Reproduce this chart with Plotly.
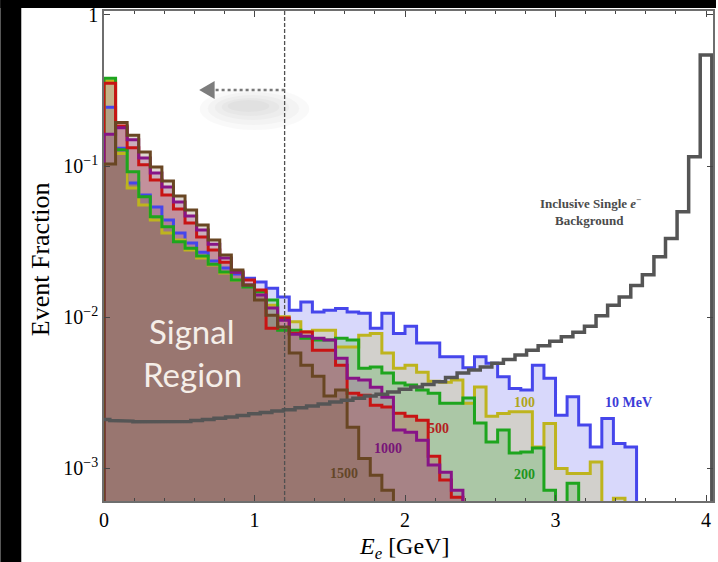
import numpy as np
import plotly.graph_objects as go

# ---------------- data (event fraction per bin, bins of 1/13 GeV starting at 0) ----------------
BINS_PER_GEV = 13

ee_10mev = [0.245, 0.131, 0.0771, 0.0643, 0.0535, 0.0439, 0.0360, 0.0309, 0.0269, 0.0235,
            0.0211, 0.0193, 0.0181, 0.0171, 0.0155, 0.0136, 0.0111, 0.0126, 0.0108, 0.0111,
            0.0114, 0.0108, 0.0106, 0.00845, 0.0106, 0.00780, 0.00871, 0.00673, 0.00673, 0.00546,
            0.00546, 0.00463, 0.00546, 0.00496, 0.00403, 0.00337, 0.00329, 0.00481, 0.00394, 0.00224,
            0.00297, 0.00193, 0.00138, 0.00213, 0.00146, 0.00138]
ee_100 = [0.366, 0.121, 0.0715, 0.0552, 0.0439, 0.0360, 0.0324, 0.0278, 0.0246, 0.0221,
          0.0196, 0.0176, 0.0160, 0.0147, 0.0120, 0.01005, 0.00931, 0.00800, 0.00820, 0.00820,
          0.00635, 0.00635, 0.00760, 0.00780, 0.00578, 0.00459, 0.00481, 0.00432, 0.00377, 0.00371,
          0.00383, 0.00269, 0.00345, 0.00221, 0.00230, 0.00236, 0.00236, 0.00138, 0.00198, 0.000995,
          0.000923, 0.000923, 0.00110, 0.0, 0.000633]
ee_200 = [0.381, 0.128, 0.0917, 0.0627, 0.0461, 0.0396, 0.0315, 0.0286, 0.0254, 0.0224,
          0.0199, 0.0176, 0.0158, 0.0147, 0.0130, 0.00820, 0.00820, 0.00726, 0.00705, 0.00705,
          0.00726, 0.00705, 0.00459, 0.00467, 0.00426, 0.00366, 0.00355, 0.00329, 0.00314, 0.00269,
          0.00269, 0.00291, 0.00199, 0.00149, 0.00179, 0.00126, 0.00128, 0.00136, 0.000714, 0.0,
          0.000796]
ee_500 = [0.353, 0.184, 0.132, 0.102, 0.0808, 0.0643, 0.0519, 0.0420, 0.0339, 0.0278,
          0.0231, 0.0199, 0.0176, 0.0151, 0.00845, 0.00985, 0.00783, 0.00796, 0.00604, 0.00604,
          0.00481, 0.00314, 0.00304, 0.00261, 0.00254, 0.00231, 0.00221, 0.00208, 0.00120, 0.000834,
          0.000643]
ee_1000 = [0.162, 0.179, 0.149, 0.113, 0.0899, 0.0726, 0.0578, 0.0467, 0.0377, 0.0304,
           0.0246, 0.0199, 0.0163, 0.0140, 0.0115, 0.00955, 0.00771, 0.00748, 0.00726, 0.00705,
           0.00535, 0.00394, 0.00383, 0.00344, 0.00295, 0.00179, 0.00173, 0.00153, 0.00105, 0.000942,
           0.000714]
ee_1500 = [0.103, 0.194, 0.160, 0.124, 0.0984, 0.0796, 0.0633, 0.0512, 0.0407, 0.0324,
           0.0258, 0.0205, 0.0163, 0.0130, 0.0103, 0.00859, 0.00578, 0.00481, 0.00406, 0.00300,
           0.00329, 0.00187, 0.00116, 0.000899, 0.000714]
# inclusive single-electron background, bins centred on multiples of 1/13 GeV
background = [0.00210, 0.00207, 0.00205, 0.00203, 0.00202, 0.00202, 0.00202, 0.00204, 0.00207, 0.00210,
              0.00214, 0.00218, 0.00223, 0.00229, 0.00234, 0.00239, 0.00244, 0.00251, 0.00258, 0.00266,
              0.00274, 0.00282, 0.00290, 0.00300, 0.00309, 0.00320, 0.00333, 0.00345, 0.00358, 0.00373,
              0.00398, 0.00427, 0.00447, 0.00468, 0.00495, 0.00525, 0.00562, 0.00603, 0.00646, 0.00692,
              0.00741, 0.00794, 0.00871, 0.0102, 0.0120, 0.0136, 0.0162, 0.0191, 0.0251, 0.0332,
              0.0498, 0.115, 0.543]

series = [
    ("10 MeV", ee_10mev, "rgb(70,70,235)"),
    ("100", ee_100, "rgb(190,180,30)"),
    ("200", ee_200, "rgb(30,165,30)"),
    ("500", ee_500, "rgb(200,20,20)"),
    ("1000", ee_1000, "rgb(135,20,135)"),
    ("1500", ee_1500, "rgb(105,70,35)"),
]

CUT_GEV = 1.2
FLOOR = 1e-4  # below the visible range, used to close histograms down to the axis

x_ticks = [0, 1, 2, 3, 4]
y_ticks = [1, 0.1, 0.01, 0.001]
y_ticktext = ["1", "10<sup>\u22121</sup>", "10<sup>\u22122</sup>", "10<sup>\u22123</sup>"]


def step_path(values, edges):
    v = np.where(np.asarray(values, float) > 0, values, FLOOR)
    x = np.repeat(edges, 2)[1:-1]
    y = np.repeat(v, 2)
    x = np.concatenate([[edges[0]], x, [edges[-1]]])
    y = np.concatenate([[FLOOR], y, [FLOOR]])
    return x, y


def rgba(c, a):
    return c.replace("rgb(", "rgba(").replace(")", f",{a})")


fig = go.Figure()

paths = []
for name, vals, col in series:
    edges = np.arange(len(vals) + 1) / BINS_PER_GEV
    paths.append((name, *step_path(vals, edges), col))

# fills first
for name, x, y, col in paths:
    fig.add_trace(go.Scatter(x=x, y=y, mode="lines", fill="toself", fillcolor=rgba(col, 0.21),
                             line=dict(width=0), hoverinfo="skip", showlegend=False))
# outlines
for name, x, y, col in paths:
    fig.add_trace(go.Scatter(x=x, y=y, mode="lines", line=dict(color=col, width=3),
                             name=name, showlegend=False))

# background line
bk_edges = np.concatenate([[0], (np.arange(len(background)) + 0.5) / BINS_PER_GEV])
bx = np.repeat(bk_edges, 2)[1:-1]
by = np.repeat(background, 2)
bx = np.concatenate([bx, [bk_edges[-1]]])
by = np.concatenate([by, [FLOOR]])
fig.add_trace(go.Scatter(x=bx, y=by, mode="lines", line=dict(color="rgb(85,85,85)", width=3.5),
                         name="Background", showlegend=False))

# geometry helpers (plot area in px: x 104..715, y 11..501)
L, R, T, B = 104, 715, 11, 501
W, H = 718, 562
PX_PER_GEV = 151.0
def px_x(p):
    return (p - L) / (R - L)
def px_y(p):
    return (B - p) / (B - T)
def gev(p):
    return (p - L) / PX_PER_GEV

serif = "Liberation Serif"

shapes = []
# soft shadow under the arrow (several faint nested ellipses)
for (xa, xb, ya, yb) in [(200, 310, 88, 130), (208, 300, 92, 125), (215, 290, 95, 120),
                         (222, 280, 98, 116), (228, 270, 100, 112)]:
    shapes.append(dict(type="circle", xref="x", yref="paper", x0=gev(xa), x1=gev(xb),
                       y0=px_y(yb), y1=px_y(ya), fillcolor="rgba(0,0,0,0.022)",
                       line=dict(width=0), layer="below"))
shapes += [
    # cut line and arrow
    dict(type="line", xref="x", yref="paper", x0=CUT_GEV, x1=CUT_GEV, y0=0, y1=1,
         line=dict(color="rgb(80,80,80)", width=1.3, dash="4px,2px"), layer="above"),
    dict(type="line", xref="x", yref="paper", x0=CUT_GEV, x1=gev(212), y0=px_y(90), y1=px_y(90),
         line=dict(color="rgb(120,120,120)", width=2.5, dash="dot"), layer="above"),
    dict(type="path", xref="x", yref="paper",
         path=f"M {gev(199.5)},{px_y(90)} L {gev(215)},{px_y(81)} L {gev(215)},{px_y(99)} Z",
         fillcolor="rgb(125,125,125)", line=dict(width=0), layer="above"),
    # black strips of the original photo
    dict(type="rect", xref="paper", yref="paper", x0=px_x(0), x1=px_x(21), y0=px_y(H), y1=px_y(0),
         fillcolor="black", line=dict(width=0), layer="above"),
    dict(type="rect", xref="paper", yref="paper", x0=px_x(0), x1=px_x(W), y0=px_y(8), y1=px_y(0),
         fillcolor="black", line=dict(width=0), layer="above"),
]

def lab(xp, yp, text, size, color, family=serif):
    return dict(x=px_x(xp), y=px_y(yp), xref="paper", yref="paper", text=text, showarrow=False,
                xanchor="center", yanchor="middle", font=dict(family=family, size=size, color=color))

annotations = [
    lab(630, 402, "<b>10 MeV</b>", 14, "rgb(60,60,215)"),
    lab(526, 402, "<b>100</b>", 14, "rgb(175,165,30)"),
    lab(526, 474, "<b>200</b>", 14, "rgb(30,150,30)"),
    lab(440, 428, "<b>500</b>", 14, "rgb(180,30,30)"),
    lab(389, 448, "<b>1000</b>", 14, "rgb(120,20,120)"),
    lab(345, 473, "<b>1500</b>", 14, "rgb(100,70,40)"),
    lab(592, 203, "<b>Inclusive Single <i>e</i><sup>\u2212</sup></b>", 13, "rgb(75,75,75)"),
    lab(591, 220, "<b>Background</b>", 13, "rgb(75,75,75)"),
    lab(192, 331, "Signal", 33, "rgb(245,238,232)", "Lato"),
    lab(193, 374, "Region", 33, "rgb(245,238,232)", "Lato"),
    dict(xref="paper", yref="paper", x=px_x(40), y=px_y(259), text="Event Fraction", textangle=-90,
         showarrow=False, xanchor="center", yanchor="middle", font=dict(family=serif, size=26, color="black")),
    dict(xref="paper", yref="paper", x=px_x(405), y=px_y(548), text="<i>E<sub>e</sub></i> [GeV]",
         showarrow=False, xanchor="center", yanchor="middle", font=dict(family=serif, size=24, color="black")),
]

axis_common = dict(showgrid=False, zeroline=False, showline=True, linecolor="rgb(110,110,110)", linewidth=1.5,
                   mirror="ticks", ticks="inside", tickcolor="rgb(70,70,70)", tickwidth=1.2,
                   tickfont=dict(family=serif, size=20, color="black"))

fig.update_layout(
    width=W, height=H,
    margin=dict(l=L, r=W - R, t=T, b=H - B),
    paper_bgcolor="white", plot_bgcolor="white",
    shapes=shapes, annotations=annotations,
    xaxis=dict(axis_common, range=[0, (R - L) / PX_PER_GEV], tickvals=x_ticks, ticklen=6,
               minor=dict(dtick=0.2, ticklen=3, ticks="inside", tickcolor="rgb(70,70,70)")),
    yaxis=dict(axis_common, type="log", range=[-3.217, 0.026], tickvals=y_ticks, ticktext=y_ticktext,
               ticklen=6),
)

fig.write_html("out.html")
